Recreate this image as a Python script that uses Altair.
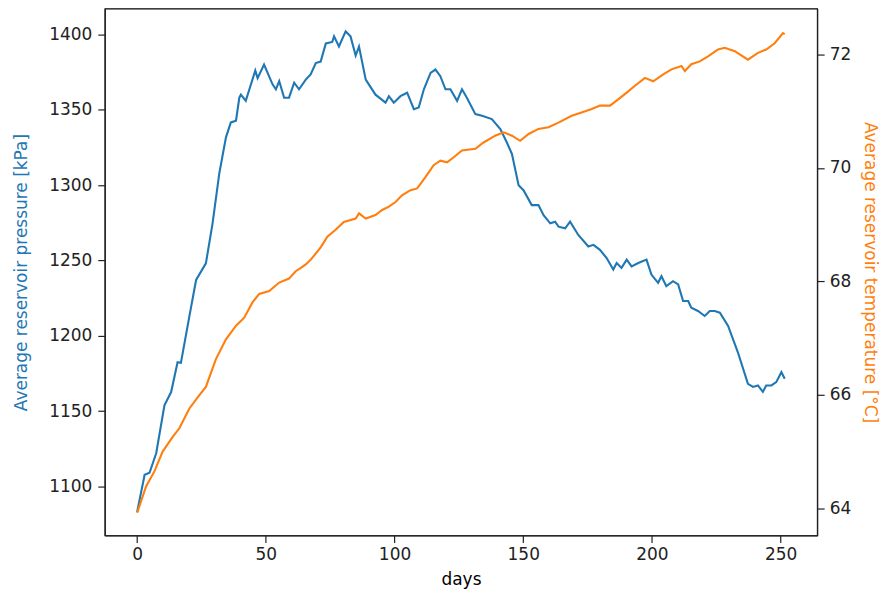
import altair as alt
import pandas as pd

# Pressure series (days, kPa)
p_days = [0, 2.9, 4.8, 7.4, 10.6, 13.2, 15.7, 17, 20.3, 22.9, 26.7, 29.3, 31.9, 34.5,
          36.4, 38.4, 39.7, 40.3, 42.2, 45.9, 46.8, 49.3, 52.6, 53.9, 55.2, 57.1, 59,
          61, 62.9, 65.5, 67.4, 69.4, 71.3, 73.3, 75.8, 76.5, 78.4, 81, 82.9, 84.9,
          86.2, 88.8, 92.6, 96.5, 97.8, 99.7, 102.3, 104.9, 107.5, 109.4, 111.4, 114,
          115.9, 117.8, 119.8, 121.7, 124.3, 126.2, 128.1, 131.4, 134, 137.8, 141.1,
          143.6, 145.6, 148.2, 150.1, 153.3, 155.9, 157.9, 160.5, 162.4, 163.7, 166.3,
          168.2, 171.4, 175.3, 177.3, 179.8, 182.4, 185, 186.3, 188.2, 190.2, 192.1,
          194.7, 197.9, 199.8, 202.4, 203.7, 205.6, 208.2, 210.2, 212.1, 214.1, 215.3,
          217.9, 220.5, 222.5, 224.4, 226.4, 229.6, 233.4, 237.3, 239.3, 241.2, 243.1,
          244.4, 246.4, 248.3, 250.3, 251.6]
pressure = [1083, 1107.7, 1109, 1122, 1153.8, 1162.6, 1182.4, 1182, 1213, 1237, 1248,
            1274.6, 1307.6, 1331.7, 1341.6, 1342.7, 1358, 1360, 1356, 1376, 1371, 1380,
            1366.9, 1363.6, 1369, 1358, 1358, 1368, 1363.6, 1370, 1373.5, 1381, 1382,
            1394, 1395, 1398.7, 1392, 1402, 1398.7, 1386, 1392, 1370, 1360, 1354.7,
            1359, 1354.7, 1359, 1361.3, 1350.4, 1351.5, 1363.6, 1374.5, 1376.7, 1372.3,
            1363.6, 1363.6, 1355.9, 1363.6, 1358, 1347.1, 1346, 1343.8, 1337.2, 1328.4,
            1320.7, 1299.9, 1296.6, 1286.7, 1286.7, 1280, 1274.6, 1275.7, 1272.4,
            1271.3, 1275.7, 1266.9, 1259.2, 1260.3, 1257, 1251.6, 1243.9, 1248.3, 1245,
            1250.5, 1246, 1248.3, 1250.5, 1240.6, 1235.1, 1239.5, 1232.9, 1236.2, 1234,
            1223, 1223, 1218.6, 1216.4, 1213.1, 1216.4, 1216.4, 1215.3, 1206.5, 1189,
            1168, 1166, 1167, 1162.7, 1167, 1167, 1169.2, 1175.8, 1171.4]

# Temperature series (days, degC)
t_days = [0, 3.5, 6.7, 9.9, 13.8, 16.4, 20.3, 24.1, 26.7, 30.6, 34.5, 38.4, 41.6,
          44.8, 47.4, 51.3, 55.2, 59.0, 61.6, 63.6, 65.5, 67.4, 71.3, 73.9, 77.1,
          80.3, 84.9, 86.2, 88.8, 92.6, 95.2, 97.8, 100.4, 102.9, 106.2, 108.8, 112,
          115.2, 117.8, 120.4, 123, 126.2, 131.4, 134.6, 139.1, 142.4, 145.6, 148.8,
          152.1, 155.9, 159.8, 163.7, 168.8, 172.7, 176.6, 179.8, 183.7, 186.9, 190.2,
          193.4, 197.3, 200.5, 204.4, 207.6, 211.5, 212.8, 215.3, 218.6, 221.8, 225.7,
          228.3, 232.2, 237.3, 241.2, 244.4, 247.7, 250.9, 251.6]
temperature = [63.92, 64.39, 64.65, 65.0, 65.26, 65.41, 65.76, 65.99, 66.14, 66.63,
               66.98, 67.22, 67.36, 67.63, 67.78, 67.83, 67.98, 68.05, 68.18, 68.24,
               68.3, 68.38, 68.6, 68.79, 68.91, 69.05, 69.11, 69.2, 69.11, 69.17, 69.26,
               69.32, 69.4, 69.52, 69.61, 69.64, 69.84, 70.05, 70.13, 70.1, 70.19,
               70.31, 70.34, 70.45, 70.57, 70.63, 70.57, 70.48, 70.6, 70.69, 70.72,
               70.8, 70.92, 70.98, 71.04, 71.1, 71.1, 71.21, 71.33, 71.45, 71.59,
               71.53, 71.65, 71.74, 71.8, 71.71, 71.83, 71.88, 71.97, 72.09, 72.12,
               72.06, 71.91, 72.03, 72.09, 72.2, 72.38, 72.36]

x_ticks = [0, 50, 100, 150, 200, 250]
p_ticks = [1100, 1150, 1200, 1250, 1300, 1350, 1400]
t_ticks = [64, 66, 68, 70, 72]

BLUE = "#1f77b4"
ORANGE = "#ff7f0e"
FONT = "DejaVu Sans"
FS = 17

dfp = pd.DataFrame({"days": p_days, "pressure": pressure})
dft = pd.DataFrame({"days": t_days, "temperature": temperature})

x_scale = alt.Scale(domain=[-12.58, 264.2], nice=False, zero=False)
x_axis = alt.Axis(values=x_ticks, title="days", grid=False, format="d",
                  tickSize=7, labelPadding=4, titlePadding=9)

left = alt.Chart(dfp).mark_line(color=BLUE, strokeWidth=2.1).encode(
    x=alt.X("days:Q", scale=x_scale, axis=x_axis),
    y=alt.Y("pressure:Q",
            scale=alt.Scale(domain=[1067.4, 1417.1], nice=False, zero=False),
            axis=alt.Axis(values=p_ticks, orient="left", grid=False, format="d",
                          title="Average reservoir pressure [kPa]",
                          titleColor=BLUE, tickSize=7, labelPadding=6,
                          titlePadding=18)),
)

right = alt.Chart(dft).mark_line(color=ORANGE, strokeWidth=2.1).encode(
    x=alt.X("days:Q", scale=x_scale, axis=x_axis),
    y=alt.Y("temperature:Q",
            scale=alt.Scale(domain=[63.52, 72.81], nice=False, zero=False),
            axis=alt.Axis(values=t_ticks, orient="right", grid=False, format="d",
                          title="Average reservoir temperature [°C]",
                          titleColor=ORANGE, tickSize=7, labelPadding=5,
                          titlePadding=10)),
)

chart = alt.layer(left, right).resolve_scale(y="independent").properties(
    width=714, height=528,
    autosize=alt.AutoSizeParams(type="none"),
    padding={"left": 97, "top": 0, "right": 68, "bottom": 58},
    background="white",
).configure_view(
    stroke="black", strokeWidth=1.2
).configure_axis(
    labelFont=FONT, titleFont=FONT, labelFontSize=FS, titleFontSize=FS,
    titleFontWeight="normal", labelColor="#222", tickColor="#222",
    domainColor="#222", domainWidth=1.2, tickWidth=1.2,
)

chart.save("out.html", embed_options={"renderer": "svg", "actions": False})
